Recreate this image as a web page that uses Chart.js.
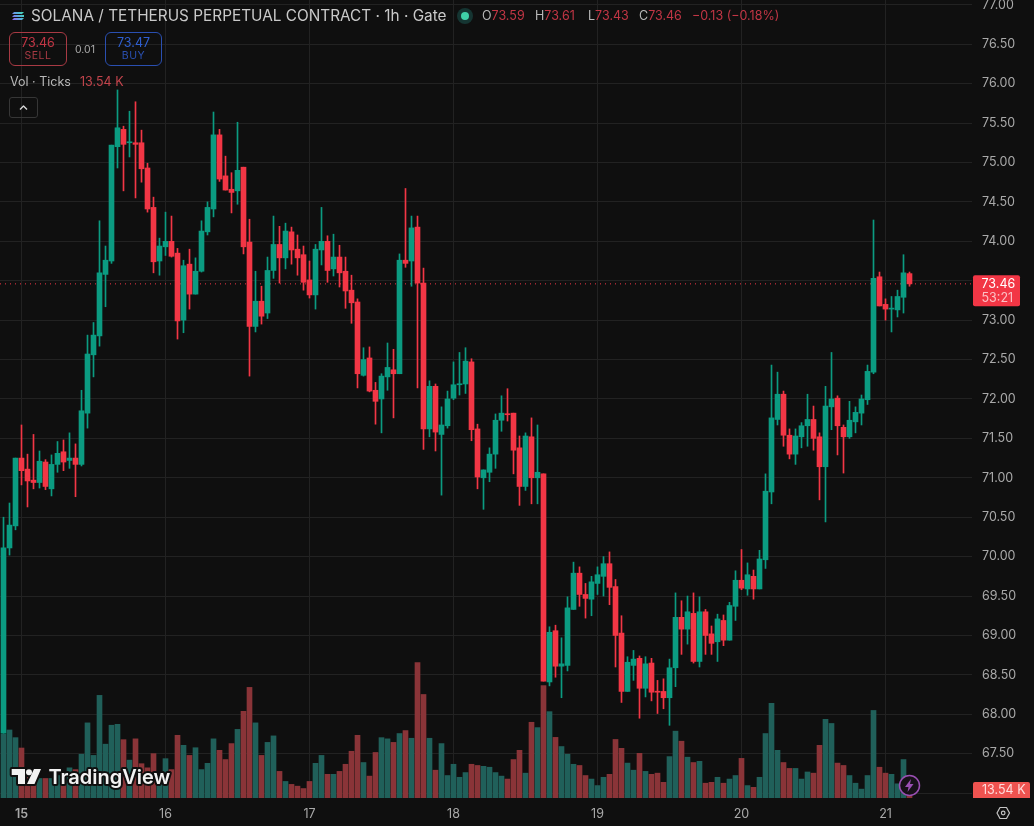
<!DOCTYPE html>
<html>
<head>
<meta charset="utf-8">
<title>SOL/USDT perpetual, 1h</title>
<script src="https://cdn.jsdelivr.net/npm/chart.js@4"></script>
<style>
  html,body{margin:0;padding:0;background:#0f0f0f;}
  #wrap{position:relative;width:1034px;height:826px;overflow:hidden;font-family:Inter,"Noto Sans",sans-serif;}
  canvas{position:absolute;left:0;top:0;}
  .t{position:absolute;white-space:nowrap;line-height:1;}
  .btn{position:absolute;box-sizing:border-box;border-radius:6px;border:1px solid;text-align:center;}
</style>
</head>
<body>
<div id="wrap">
  <canvas id="c" width="1034" height="826"></canvas>
  <div class="t" style="left:31px;top:8px;font-size:15.35px;color:#c9c9c9;">SOLANA / TETHERUS PERPETUAL CONTRACT · 1h · Gate</div>
  <div class="t" style="left:482px;top:10px;font-size:12.5px;color:#b8b8b8">O<span style="color:#c23645">73.59</span></div>
  <div class="t" style="left:535px;top:10px;font-size:12.5px;color:#b8b8b8">H<span style="color:#c23645">73.61</span></div>
  <div class="t" style="left:588px;top:10px;font-size:12.5px;color:#b8b8b8">L<span style="color:#c23645">73.43</span></div>
  <div class="t" style="left:639px;top:10px;font-size:12.5px;color:#b8b8b8">C<span style="color:#c23645">73.46</span></div>
  <div class="t" style="left:692px;top:10px;font-size:12.5px;color:#c23645">−0.13 (−0.18%)</div>
  <div class="btn" style="left:9px;top:32px;width:58px;height:34px;border-color:#a83a44;">
    <div class="t" style="left:0;right:0;top:4px;font-size:12.5px;color:#c23645">73.46</div>
    <div class="t" style="left:0;right:0;top:18px;font-size:10.5px;letter-spacing:.5px;color:#a83a44">SELL</div>
  </div>
  <div class="t" style="left:75px;top:45px;font-size:10.5px;color:#a8a8a8">0.01</div>
  <div class="btn" style="left:105px;top:32px;width:57px;height:34px;border-color:#2a4fb0;">
    <div class="t" style="left:0;right:0;top:4px;font-size:12.5px;color:#2f5fd0">73.47</div>
    <div class="t" style="left:0;right:0;top:18px;font-size:10.5px;letter-spacing:.5px;color:#2a4fb0">BUY</div>
  </div>
  <div class="t" style="left:10px;top:76px;font-size:12.5px;color:#b8b8b8">Vol · Ticks</div>
  <div class="t" style="left:80px;top:76px;font-size:12.5px;color:#c2444c">13.54 K</div>
  <div style="position:absolute;left:9px;top:97px;width:29px;height:21px;box-sizing:border-box;border:1px solid #363636;border-radius:3px;"></div>
</div>
<script>
// Hourly candles, oldest first
const open = [67.76,70.11,70.39,71.25,71.11,70.97,70.94,71.20,70.86,71.17,71.33,71.22,71.25,71.17,71.82,72.56,72.80,73.58,73.75,75.20,
75.42,75.25,75.25,75.25,74.93,74.43,73.75,73.93,74.00,73.85,73.00,73.71,73.33,73.62,74.12,74.41,75.35,74.83,74.66,74.64,
74.94,73.99,72.92,73.24,73.09,73.63,73.96,73.79,74.12,73.90,73.83,73.51,73.32,73.89,74.00,73.65,73.80,73.62,73.38,73.23,
72.30,72.52,72.11,72.00,72.28,72.37,72.32,73.76,73.75,74.18,73.47,71.62,72.16,71.55,71.66,72.01,72.18,72.19,72.47,71.62,
71.00,71.07,71.30,71.73,71.81,71.82,71.38,70.89,71.52,71.00,71.05,68.41,69.06,68.61,68.62,69.33,69.79,69.52,69.46,69.66,
69.75,69.91,69.62,69.03,68.29,68.62,68.71,68.33,68.65,68.29,68.29,68.21,68.59,69.23,69.08,69.28,68.67,69.30,69.02,68.92,
69.19,68.94,69.37,69.70,69.59,69.75,69.59,69.96,70.82,71.74,72.06,71.54,71.30,71.52,71.66,71.74,71.52,71.14,71.90,72.01,
71.64,71.52,71.71,71.82,71.99,72.34,73.55,73.20,73.14,73.13,73.29,73.59];
const high = [70.50,70.68,71.25,71.67,71.30,71.55,71.34,71.23,71.29,71.46,71.48,71.57,71.43,72.11,72.81,72.97,74.26,73.94,75.22,75.92,
75.46,75.65,75.77,75.41,74.99,74.56,74.04,74.37,74.32,73.91,73.76,73.90,73.79,74.26,74.50,75.64,75.42,75.08,74.87,75.51,
74.94,74.28,73.62,73.43,73.80,74.32,74.19,74.23,74.18,74.08,73.94,73.75,73.96,74.43,74.07,74.09,73.95,73.80,73.57,73.27,
72.65,72.66,72.21,72.32,72.71,72.63,73.84,74.67,74.32,74.32,73.66,72.23,72.19,71.90,72.10,72.47,72.59,72.65,72.51,71.68,
71.10,71.38,71.81,72.04,72.13,71.82,71.53,71.57,71.76,71.67,71.05,69.11,69.13,68.97,69.49,69.93,69.87,69.66,69.75,69.87,
70.00,70.06,69.71,69.25,68.73,68.81,68.74,68.73,68.71,68.43,68.45,68.70,69.54,69.44,69.50,69.54,69.49,69.33,69.12,69.27,
69.26,69.42,69.82,70.09,69.92,69.83,70.08,71.05,72.43,72.34,72.10,71.62,71.62,71.70,72.06,71.91,71.57,72.16,72.59,72.04,
71.67,71.97,71.90,72.05,72.43,74.27,73.61,73.27,73.30,73.38,73.83,73.61];
const low = [67.76,70.02,70.34,70.91,70.63,70.86,70.87,70.85,70.77,71.07,71.09,71.12,70.76,71.15,71.63,72.28,72.67,73.17,73.72,74.93,
74.64,75.07,74.55,74.75,74.37,73.60,73.57,73.82,73.80,72.76,72.84,73.14,73.33,73.61,74.08,74.31,74.76,74.65,74.36,74.47,
73.84,72.29,72.85,72.95,73.02,73.53,73.47,73.65,73.71,73.57,73.38,73.28,73.14,73.70,73.48,73.56,73.42,73.15,72.96,72.14,
72.29,72.09,71.68,71.57,72.11,71.76,72.32,73.67,73.43,72.14,71.36,71.52,71.34,70.78,71.63,71.99,72.05,72.07,71.47,70.86,
70.60,70.95,71.12,71.59,71.72,71.05,70.65,70.84,70.67,70.67,68.42,68.36,68.47,68.21,68.55,69.33,69.37,69.22,69.25,69.52,
69.50,69.39,68.60,68.15,68.29,68.43,67.95,68.22,68.17,68.01,68.07,67.86,68.35,68.76,68.89,68.65,68.60,68.76,68.76,68.67,
68.87,68.94,69.19,69.58,69.51,69.46,69.59,69.85,70.67,71.67,71.40,71.24,71.17,71.38,71.40,71.35,70.72,70.44,71.61,71.29,
71.06,71.50,71.57,71.67,71.93,72.32,73.18,73.00,72.85,73.04,73.09,73.43];
const close = [70.11,70.40,71.25,71.09,70.96,70.94,71.21,70.89,71.17,71.31,71.20,71.25,71.17,71.85,72.57,72.81,73.60,73.76,75.22,75.44,
75.23,75.26,75.23,74.92,74.41,73.74,73.94,74.00,73.81,72.99,73.69,73.33,73.62,74.13,74.43,75.35,74.79,74.65,74.62,74.90,
73.93,72.92,73.24,73.05,73.63,73.96,73.79,74.13,73.89,73.79,73.48,73.32,73.90,74.00,73.63,73.80,73.60,73.37,73.22,72.32,
72.50,72.10,71.97,72.29,72.40,72.32,73.76,73.72,74.17,73.47,71.62,72.16,71.58,71.67,72.00,72.18,72.19,72.48,71.61,71.01,
71.10,71.30,71.73,71.82,71.80,71.35,70.89,71.53,71.00,71.07,68.42,69.04,68.61,68.64,69.35,69.79,69.52,69.47,69.68,69.77,
69.91,69.61,69.00,68.29,68.66,68.70,68.33,68.64,68.28,68.28,68.21,68.59,69.23,69.08,69.30,68.67,69.30,69.00,68.90,69.21,
68.94,69.38,69.70,69.60,69.77,69.59,69.97,70.83,71.76,72.06,71.54,71.30,71.53,71.66,71.74,71.50,71.14,71.91,72.00,71.66,
71.52,71.73,71.83,72.00,72.35,73.53,73.18,73.14,73.15,73.30,73.60,73.46];
// Tick volume, in thousands
const volume = [107.6,115,102,84.5,35,38,33,33,33,38,24,51,48,74,127,72,173.5,91,123,124.5,
98.6,64,100,58,51,75,30,66.5,48,106,89,72,85,48,58.6,100,80.6,65,92,116,
146.5,187,127,72,94,105,45,28,23,20,16,28,58.6,72,40,40,45,57,79,106,
60,37,77,102,100,94,109,114,101,229,175,101,47,92,38,57,35,43,57,55,
53.5,52,43,37,32,65,80.6,42,128,119,190,146,102.5,87,74,57,55,38,32,21,
35,40,99,84,59,47,75.5,45,40,42,26.5,70,113,96,69,60,62,25,26.5,35,
25,32,38,67,21,18,35,109,160,80.6,60,50,50,32,44,42,89,133,126,59,
55,38,25,15,38,148,52,42,40,24,65,13.54];

const dayTicks = [3,27,51,75,99,123,147];
const dayLabels = ['15','16','17','18','19','20','21'];
const priceMin = 66.938, priceMax = 77.061, priceStep = 0.5;
const coveredPriceLabels = [67, 73.5]; // these sit behind the two axis badges
const lastClose = 73.46;
const lastVolumeLabel = '13.54 K';
const countdown = '53:21';

const UP = '#0b9b81', DOWN = '#f23645';
const UP_VOL = '#20605a', DOWN_VOL = '#8a3438';
const GRID = '#222222', AXIS_TEXT = '#a9a9a9', BG = '#0f0f0f';

// index 0 sits half-a-pixel aligned so one-pixel wicks stay crisp
const xMin = -3.5 / 6, xMax = xMin + 162;

const isUp = open.map((o, i) => close[i] >= o);
const candleColor = isUp.map(u => u ? UP : DOWN);
const volumeColor = isUp.map(u => u ? UP_VOL : DOWN_VOL);

// The pane runs edge to edge, so the scales must not reserve label overhang
const noPadding = s => { s.paddingLeft = s.paddingRight = s.paddingTop = s.paddingBottom = 0; };

// Canvas extras: price badges, watermark and small icons
const overlay = {
  id: 'overlay',
  afterDraw(chart) {
    const g = chart.ctx, yS = chart.scales.y;
    g.save();

    // last-price badge
    const py = yS.getPixelForValue(lastClose);
    g.fillStyle = '#f23645';
    g.beginPath(); g.roundRect(973, py - 8.5, 47, 31, 2); g.fill();
    g.textAlign = 'left'; g.textBaseline = 'middle';
    g.font = '12.5px Inter';
    g.fillStyle = '#ffffff'; g.fillText(lastClose.toFixed(2), 981.5, py + 0.5);
    g.fillStyle = '#fbc0c5'; g.fillText(countdown, 981.5, py + 14.5);

    // last-volume badge
    g.fillStyle = '#ef5350';
    g.beginPath(); g.roundRect(973, 782, 57, 16, [2, 2, 0, 0]); g.fill();
    g.fillStyle = '#ffdcdc'; g.fillText(lastVolumeLabel, 982, 790.5);

    // watermark
    g.lineJoin = 'round';
    g.font = '600 20px Inter';
    g.lineWidth = 4; g.strokeStyle = BG;
    g.strokeText('TradingView', 48.5, 777.5);
    g.fillStyle = '#f2f2f2'; g.fillText('TradingView', 48.5, 777.5);
    const mark = new Path2D('M11.7 769h13.3v15h-7v-9h-6.3z M34 769h7l-6.5 15h-7.5z');
    const dot = new Path2D(); dot.arc(29, 772.3, 3, 0, Math.PI * 2);
    g.stroke(mark); g.stroke(dot); g.fill(mark); g.fill(dot);

    // bolt icon
    g.beginPath(); g.arc(909.5, 785.5, 10, 0, Math.PI * 2);
    g.fillStyle = '#171018'; g.fill();
    g.lineWidth = 1.5; g.strokeStyle = '#9a4fb3'; g.stroke();
    g.fillStyle = '#9a4fb3';
    g.fill(new Path2D('M911 779l-6 8h3.5l-1 5 6-8h-3.5z'));

    // settings hexagon
    g.strokeStyle = '#c4c4c4'; g.lineWidth = 1.2;
    g.stroke(new Path2D('M997 813l3-5.5h6.5l3 5.5-3 5.5h-6.5z'));
    g.beginPath(); g.arc(1003.2, 813, 1.8, 0, Math.PI * 2); g.stroke();

    // collapse chevron
    g.strokeStyle = '#d8d8d8'; g.lineWidth = 1.4;
    g.stroke(new Path2D('M20 109.5l3.5-3.5 3.5 3.5'));

    // ticker glyph
    const grad = g.createLinearGradient(12, 20, 24, 12);
    grad.addColorStop(0, '#9b5cf0'); grad.addColorStop(.5, '#5aa6e0'); grad.addColorStop(1, '#3fe0b0');
    g.fillStyle = grad;
    [12, 15, 18].forEach((y, k) => { g.beginPath(); g.moveTo(14, y); g.lineTo(24, y); g.lineTo(k === 1 ? 24 : 22, y + 2); g.lineTo(12, y + 2); g.closePath(); g.fill(); });

    // market-open dot
    g.fillStyle = 'rgba(38,166,154,.25)';
    g.beginPath(); g.arc(465, 16, 8, 0, Math.PI * 2); g.fill();
    g.fillStyle = '#3fd0a8';
    g.beginPath(); g.arc(465, 16, 4, 0, Math.PI * 2); g.fill();
    g.restore();
  }
};

new Chart(document.getElementById('c'), {
  type: 'bar',
  data: {
    datasets: [
      { type: 'bar', order: 1, grouped: false, yAxisID: 'y', barThickness: 5, minBarLength: 1,
        backgroundColor: candleColor,
        data: open.map((o, i) => ({ x: i, y: [o, close[i]] })) },
      { type: 'bar', order: 2, grouped: false, yAxisID: 'y', barThickness: 1,
        backgroundColor: candleColor,
        data: low.map((l, i) => ({ x: i, y: [l, high[i]] })) },
      { type: 'line', order: 3, yAxisID: 'y', pointRadius: 0, borderWidth: 1,
        borderColor: DOWN, borderDash: [1, 4],
        data: [{ x: xMin, y: lastClose }, { x: xMax, y: lastClose }] },
      { type: 'bar', order: 4, grouped: false, yAxisID: 'vol', barThickness: 5,
        backgroundColor: volumeColor,
        data: volume.map((v, i) => ({ x: i, y: v })) }
    ]
  },
  options: {
    responsive: false,
    animation: false,
    layout: { padding: 0 },
    plugins: { legend: { display: false }, tooltip: { enabled: false } },
    scales: {
      x: {
        type: 'linear', min: xMin, max: xMax, offset: false,
        afterBuildTicks: s => { s.ticks = dayTicks.map(v => ({ value: v })); },
        afterFit: s => { s.height = 28; noPadding(s); },
        grid: { color: GRID, drawTicks: false, lineWidth: 1, offset: false },
        border: { display: false },
        ticks: {
          color: AXIS_TEXT, padding: 9, maxRotation: 0, autoSkip: false,
          font: c => ({ family: 'Inter', size: 12.5, weight: c.index === 0 ? '600' : '400' }),
          callback: v => dayLabels[dayTicks.indexOf(v)]
        }
      },
      y: {
        position: 'right', min: priceMin, max: priceMax,
        afterFit: s => { s.width = 62; noPadding(s); },
        grid: { color: GRID, drawTicks: false },
        border: { display: false },
        ticks: {
          stepSize: priceStep, includeBounds: false, color: AXIS_TEXT, padding: 10,
          font: { family: 'Inter', size: 12.5 },
          callback: v => coveredPriceLabels.includes(v) ? '' : v.toFixed(2)
        }
      },
      // Volume shares the pane; its range keeps the bars in the bottom band
      vol: {
        display: false, position: 'left', min: 0, max: 1349,
        afterFit: s => { s.width = 0; noPadding(s); }
      }
    }
  },
  plugins: [
    { id: 'bg', beforeDraw(c) { c.ctx.fillStyle = BG; c.ctx.fillRect(0, 0, c.width, c.height); } },
    overlay
  ]
});
</script>
</body>
</html>
